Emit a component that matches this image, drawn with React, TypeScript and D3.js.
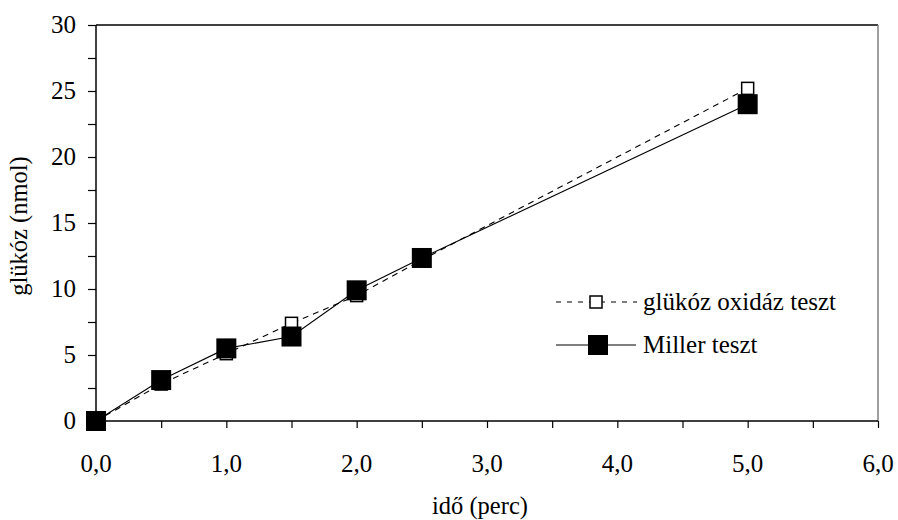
import { useEffect, useRef } from "react";
import * as d3 from "d3";

const times = [0, 0.5, 1.0, 1.5, 2.0, 2.5, 5.0];
const oxidase = [0, 2.8, 5.1, 7.4, 9.5, 12.2, 25.2];
const miller = [0, 3.1, 5.5, 6.4, 9.9, 12.35, 24.0];
const xTicks = [0, 1, 2, 3, 4, 5, 6];
const yTicks = [0, 5, 10, 15, 20, 25, 30];
const seriesNames = ["glükóz oxidáz teszt", "Miller teszt"];

export default function App() {
  const svgRef = useRef<SVGSVGElement>(null);

  useEffect(() => {
    const svg = d3.select(svgRef.current);
    svg.selectAll("*").remove();

    const width = 898;
    const height = 520;
    const font = "Liberation Serif, Times New Roman, Times, serif";

    const x = d3.scaleLinear().domain([0, 6]).range([96, 878]);
    const y = d3.scaleLinear().domain([0, 30]).range([421, 25]);

    svg.attr("width", width).attr("height", height);

    // frame: top black, right gray
    svg.append("line")
      .attr("x1", x(0)).attr("x2", x(6)).attr("y1", y(30)).attr("y2", y(30))
      .attr("stroke", "#000").attr("stroke-width", 1.3);
    svg.append("line")
      .attr("x1", x(6)).attr("x2", x(6)).attr("y1", y(30)).attr("y2", y(0))
      .attr("stroke", "#808080").attr("stroke-width", 1.5);

    // axes
    const xAxis = svg.append("g")
      .attr("transform", `translate(0,${y(0)})`)
      .call(d3.axisBottom(x).tickValues(d3.range(0, 6.01, 0.5)).tickSize(7).tickFormat(() => ""));
    xAxis.select(".domain").attr("stroke-width", 1.5).attr("d", `M${x(0)},0H${x(6)}`);
    xAxis.selectAll(".tick line").attr("stroke-width", 1.2);

    const yAxis = svg.append("g")
      .attr("transform", `translate(${x(0)},0)`)
      .call(d3.axisLeft(y).tickValues(d3.range(0, 30.01, 2.5)).tickSize(8).tickFormat(() => ""));
    yAxis.select(".domain").attr("stroke-width", 1.5).attr("d", `M0,${y(30)}V${y(0)}`);
    yAxis.selectAll(".tick line").attr("stroke-width", 1.2);

    // tick labels
    svg.append("g").selectAll("text").data(xTicks).enter().append("text")
      .attr("x", d => x(d)).attr("y", 472)
      .attr("text-anchor", "middle")
      .style("font-family", font).style("font-size", "25px")
      .text(d => d3.format(".1f")(d).replace(".", ","));

    svg.append("g").selectAll("text").data(yTicks).enter().append("text")
      .attr("x", 76).attr("y", d => y(d) + 8)
      .attr("text-anchor", "end")
      .style("font-family", font).style("font-size", "25px")
      .text(d => d);

    // axis titles
    svg.append("text")
      .attr("x", 480).attr("y", 514)
      .attr("text-anchor", "middle")
      .style("font-family", font).style("font-size", "24.5px")
      .text("idő (perc)");
    svg.append("text")
      .attr("transform", `translate(27,${y(15) + 3}) rotate(-90)`)
      .attr("text-anchor", "middle")
      .style("font-family", font).style("font-size", "24.5px")
      .text("glükóz (nmol)");

    const oxData = times.map((t, i) => [t, oxidase[i]] as [number, number]);
    const miData = times.map((t, i) => [t, miller[i]] as [number, number]);
    const line = d3.line<[number, number]>().x(d => x(d[0])).y(d => y(d[1]));

    // glucose oxidase series (dashed, open squares)
    svg.append("path")
      .attr("d", line(oxData))
      .attr("fill", "none").attr("stroke", "#000").attr("stroke-width", 1.1)
      .attr("stroke-dasharray", "6,5");
    svg.append("g").selectAll("rect").data(oxData).enter().append("rect")
      .attr("x", d => x(d[0]) - 6).attr("y", d => y(d[1]) - 6)
      .attr("width", 12).attr("height", 12)
      .attr("fill", "#fff").attr("stroke", "#000").attr("stroke-width", 1.5);

    // Miller series (solid, filled squares)
    svg.append("path")
      .attr("d", line(miData))
      .attr("fill", "none").attr("stroke", "#000").attr("stroke-width", 1.1);
    svg.append("g").selectAll("rect").data(miData).enter().append("rect")
      .attr("x", d => x(d[0]) - 10).attr("y", d => y(d[1]) - 10)
      .attr("width", 20).attr("height", 20)
      .attr("fill", "#000");

    // legend
    const lg = svg.append("g");
    const rows = [302, 345];
    lg.append("line")
      .attr("x1", 556).attr("x2", 637).attr("y1", rows[0]).attr("y2", rows[0])
      .attr("stroke", "#000").attr("stroke-width", 1.1).attr("stroke-dasharray", "5,6");
    lg.append("rect")
      .attr("x", 590).attr("y", rows[0] - 6).attr("width", 12).attr("height", 12)
      .attr("fill", "#fff").attr("stroke", "#000").attr("stroke-width", 1.5);
    lg.append("line")
      .attr("x1", 556).attr("x2", 636).attr("y1", rows[1]).attr("y2", rows[1])
      .attr("stroke", "#000").attr("stroke-width", 1.1);
    lg.append("rect")
      .attr("x", 588).attr("y", rows[1] - 10).attr("width", 20).attr("height", 20)
      .attr("fill", "#000");
    lg.selectAll("text").data(seriesNames).enter().append("text")
      .attr("x", 643).attr("y", (_, i) => rows[i] + 8)
      .style("font-family", font).style("font-size", "25px")
      .text(d => d);
  }, []);

  return (
    <>
      <style>{`body{margin:0}`}</style>
      <svg ref={svgRef} style={{ display: "block", background: "#fff" }} />
    </>
  );
}
